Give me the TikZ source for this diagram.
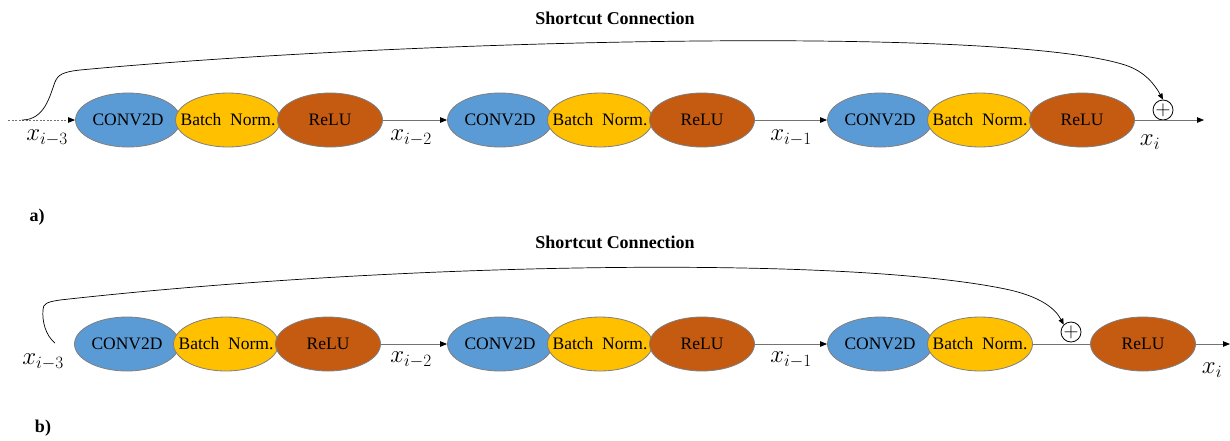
\documentclass[tikz,border=0pt]{standalone}
\usepackage{fontspec}
\setmainfont{Liberation Serif}
\usetikzlibrary{shapes.geometric,arrows.meta}
\definecolor{cblue}{HTML}{5B9BD5}
\definecolor{cyel}{HTML}{FFC000}
\definecolor{corg}{HTML}{C55A11}
\definecolor{edgec}{HTML}{7F7F7F}
\newcommand{\fixw}[1]{\makebox[0pt][c]{#1}}
\begin{document}
\begin{tikzpicture}[x=1pt,y=-1pt,
  layer/.style={ellipse, draw=edgec, line width=0.8pt, minimum width=105pt, minimum height=54pt, inner sep=0pt, font=\fontsize{17.5}{21}\selectfont},
  conv/.style={layer, fill=cblue},
  bn/.style={layer, fill=cyel},
  relu/.style={layer, fill=corg},
  lbl/.style={font=\fontsize{24}{28}\selectfont, inner sep=0pt},
  conn/.style={draw=black!55, line width=0.8pt, -{Triangle[length=7pt,width=5.5pt,color=black]}},
  plain/.style={draw=black!55, line width=0.8pt},
  sc/.style={black, line width=0.7pt, -{Triangle[length=6pt,width=5pt]}},
  plus/.style={circle, draw, line width=0.8pt, minimum size=20pt, inner sep=0pt, font=\fontsize{20}{20}\selectfont},
  title/.style={font=\bfseries\fontsize{18}{21}\selectfont, inner sep=0pt}]
\useasboundingbox (0,0) rectangle (1230,440);
% ---------- panel a ----------
\node[title] (ta) at (615,18) {Shortcut Connection};
\node[title] (pa-lab) at (37,217) {a)};
\node[conv] (c1a) at (128,120) {\fixw{CONV2D}};
\node[bn]   (b1a) at (228,120) {\fixw{Batch~~Norm.}};
\node[relu] (r1a) at (330,120) {\fixw{ReLU}};
\node[conv] (c2a) at (500,120) {\fixw{CONV2D}};
\node[bn]   (b2a) at (600,120) {\fixw{Batch~~Norm.}};
\node[relu] (r2a) at (702,120) {\fixw{ReLU}};
\node[conv] (c3a) at (880,120) {\fixw{CONV2D}};
\node[bn]   (b3a) at (980,120) {\fixw{Batch~~Norm.}};
\node[relu] (r3a) at (1082,120) {\fixw{ReLU}};
\node[plus] (pa) at (1163,110) {$+$};
\coordinate (ina) at (8,120);
\coordinate (sa) at (22,120);
\coordinate (outa) at (1204,120);
\draw[conn, dash pattern=on 2pt off 1.5pt] (ina) -- (c1a.west);
\draw[conn] (r1a.east) -- (c2a.west);
\draw[conn] (r2a.east) -- (c3a.west);
\draw[conn] (r3a.east) -- (outa);
\node[lbl] (xa3) at (47,138) {$x_{i-3}$};
\node[lbl] (xa2) at (411,138) {$x_{i-2}$};
\node[lbl] (xa1) at (791,138) {$x_{i-1}$};
\node[lbl] (xa0) at (1150,142) {$x_{i}$};
\draw[sc] (sa) .. controls (45,120) and (50,95) .. (55,82)
  .. controls (58,75) and (62,72) .. (80,70)
  .. controls (400,40) and (1000,25) .. (1125,65)
  .. controls (1145,71.4) and (1155,85) .. (pa.north);
% ---------- panel b ----------
\node[title] (tb) at (615,242) {Shortcut Connection};
\node[title] (pb-lab) at (43,428) {b)};
\node[conv] (c1b) at (127,344) {\fixw{CONV2D}};
\node[bn]   (b1b) at (226,344) {\fixw{Batch~~Norm.}};
\node[relu] (r1b) at (328,344) {\fixw{ReLU}};
\node[conv] (c2b) at (500,344) {\fixw{CONV2D}};
\node[bn]   (b2b) at (600,344) {\fixw{Batch~~Norm.}};
\node[relu] (r2b) at (702,344) {\fixw{ReLU}};
\node[conv] (c3b) at (880,344) {\fixw{CONV2D}};
\node[bn]   (b3b) at (980,344) {\fixw{Batch~~Norm.}};
\node[plus] (pb) at (1071,332) {$+$};
\node[relu] (r4b) at (1143,344) {\fixw{ReLU}};
\coordinate (sb) at (55,343);
\coordinate (outb) at (1230,344);
\draw[conn] (r1b.east) -- (c2b.west);
\draw[conn] (r2b.east) -- (c3b.west);
\draw[plain] (b3b.east) -- (r4b.west);
\draw[conn] (r4b.east) -- (outb);
\node[lbl] (xb3) at (43,362) {$x_{i-3}$};
\node[lbl] (xb2) at (411,360) {$x_{i-2}$};
\node[lbl] (xb1) at (791,360) {$x_{i-1}$};
\node[lbl] (xb0) at (1212,370) {$x_{i}$};
\draw[sc] (sb) .. controls (45,335) and (42,320) .. (43,310)
  .. controls (43,304) and (46,302) .. (60,300)
  .. controls (400,262) and (850,255) .. (1010,290)
  .. controls (1040,297) and (1055,308) .. (pb.north west);
\end{tikzpicture}
\end{document}
